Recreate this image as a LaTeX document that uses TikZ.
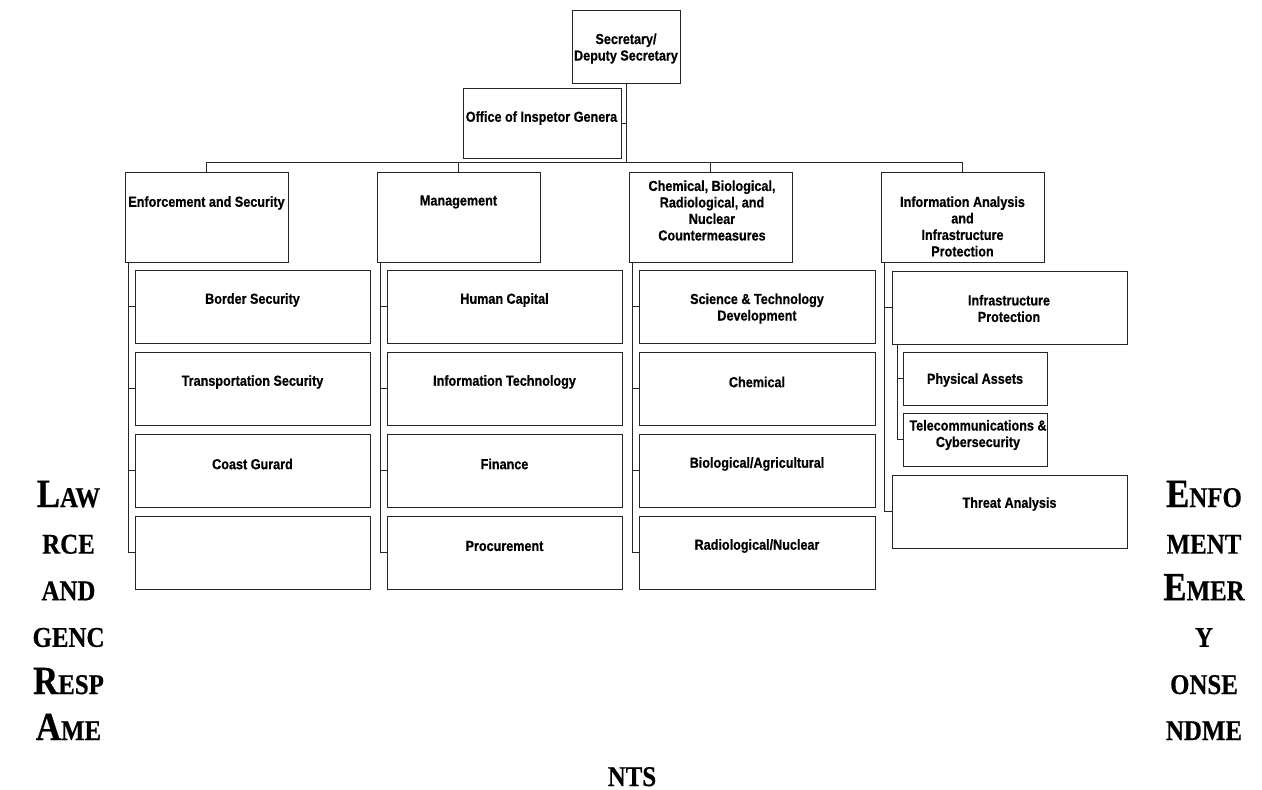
\documentclass[tikz,border=0pt]{standalone}
\usepackage{fontspec}
\newfontfamily\boxfam[FakeStretch=0.87,FakeBold=0.6]{Liberation Sans Bold}
\newfontfamily\serfam[FakeStretch=0.87,FakeBold=0.5]{Liberation Serif Bold}
\newcommand\bigsc[2]{{\fontsize{40}{40}\selectfont #1}{\fontsize{28.6}{30}\selectfont #2}}
\newcommand\smsc[1]{{\fontsize{28.6}{30}\selectfont #1}}
\newcommand\obox[5]{\node[box, minimum width={(#4-#2)*1pt}, minimum height={(#5-#3)*1pt}] (#1) at ({(#2+#4)/2},{(#3+#5)/2}) {};}
\begin{document}
\begin{tikzpicture}[x=1pt,y=-1pt,
  box/.style={draw=black!85, line width=0.9pt, inner sep=0pt, outer sep=0pt},
  lbl/.style={font=\boxfam\fontsize{14.5}{16.5}\selectfont, align=center, inner sep=0pt},
  big/.style={font=\serfam, inner sep=0pt, anchor=base},
  conn/.style={draw=black!85, line width=0.8pt}]
\useasboundingbox (0,0) rectangle (1262,790);
% boxes
\obox{sec}{572}{10}{680}{83}
\obox{oig}{463}{88}{621}{158}
\obox{es}{125}{172}{288}{262}
\obox{mg}{377}{172}{540}{262}
\obox{cb}{629}{172}{792}{262}
\obox{ia}{881}{172}{1044}{262}
\obox{bs}{135}{270}{370}{343}
\obox{tsec}{135}{352}{370}{425}
\obox{cg}{135}{434}{370}{507}
\obox{eo}{135}{516}{370}{589}
\obox{hc}{387}{270}{622}{343}
\obox{it}{387}{352}{622}{425}
\obox{fi}{387}{434}{622}{507}
\obox{pr}{387}{516}{622}{589}
\obox{st}{639}{270}{875}{343}
\obox{ch}{639}{352}{875}{425}
\obox{ba}{639}{434}{875}{507}
\obox{rn}{639}{516}{875}{589}
\obox{ip}{892}{271}{1127}{344}
\obox{pa}{903}{352}{1047}{405}
\obox{tc}{903}{413}{1047}{466}
\obox{ta}{892}{475}{1127}{548}
% labels
\node[lbl] (secT) at (626,48.5) {Secretary/\\Deputy Secretary};
\node[lbl] (oigT) at (541.5,118) {Office of Inspetor Genera};
\node[lbl] (esT) at (206.5,203) {Enforcement and Security};
\node[lbl] (mgT) at (458.5,202) {Management};
\node[lbl] (cbT) at (712,210.5) {Chemical, Biological,\\Radiological, and\\Nuclear\\Countermeasures};
\node[lbl] (iaT) at (962.5,226.5) {Information Analysis\\and\\Infrastructure\\Protection};
\node[lbl] (bsT) at (252.5,300) {Border Security};
\node[lbl] (tsecT) at (252.5,382) {Transportation Security};
\node[lbl] (cgT) at (252.5,464) {Coast Gurard};
\node[lbl] (hcT) at (504.5,300) {Human Capital};
\node[lbl] (itT) at (504.5,382) {Information Technology};
\node[lbl] (fiT) at (504.5,464) {Finance};
\node[lbl] (prT) at (504.5,546) {Procurement};
\node[lbl] (stT) at (757,308.5) {Science \& Technology\\Development};
\node[lbl] (chT) at (757,382) {Chemical};
\node[lbl] (baT) at (757,464) {Biological/Agricultural};
\node[lbl] (rnT) at (757,546) {Radiological/Nuclear};
\node[lbl] (ipT) at (1009,308.5) {Infrastructure\\Protection};
\node[lbl] (paT) at (975,380) {Physical Assets};
\node[lbl] (tcT) at (978,435) {Telecommunications \&\\Cybersecurity};
\node[lbl] (taT) at (1009.5,504) {Threat Analysis};
% connectors top
\coordinate (busy) at (0,162.5);
\draw[conn] (sec.south) -- (sec.south |- busy);
\draw[conn] (oig.east) -- (oig.east -| sec.south);
\draw[conn] (es.north) -- (es.north |- busy) -- (ia.north |- busy) -- (ia.north);
\draw[conn] (mg.north) -- (mg.north |- busy);
\draw[conn] (cb.north) -- (cb.north |- busy);
% spines
\foreach \p/\cs in {es/{bs,tsec,cg,eo}, mg/{hc,it,fi,pr}, cb/{st,ch,ba,rn}, ia/{ip,ta}}{
  \foreach \c in \cs {
    \draw[conn] ([xshift=3.5pt]\p.south west) |- (\c.west);
  }
}
\foreach \c in {pa,tc}{
  \draw[conn] ([xshift=5pt]ip.south west) |- (\c.west);
}
% big serif text
\node[big] (l1) at (68.5,507) {\bigsc{L}{AW}};
\node[big] (l2) at (68.5,553.6) {\smsc{RCE}};
\node[big] (l3) at (68.5,600.2) {\smsc{AND}};
\node[big] (l4) at (68.5,646.8) {\smsc{GENC}};
\node[big] (l5) at (68.5,694) {\bigsc{R}{ESP}};
\node[big] (l6) at (68.5,740) {\bigsc{A}{ME}};
\node[big] (r1) at (1204,507) {\bigsc{E}{NFO}};
\node[big] (r2) at (1204,553.6) {\smsc{MENT}};
\node[big] (r3) at (1204,600.2) {\bigsc{E}{MER}};
\node[big] (r4) at (1204,646.8) {\smsc{Y}};
\node[big] (r5) at (1204,694) {\smsc{ONSE}};
\node[big] (r6) at (1204,740) {\smsc{NDME}};
\node[big] (nts) at (632,786) {\smsc{NTS}};
\end{tikzpicture}
\end{document}
